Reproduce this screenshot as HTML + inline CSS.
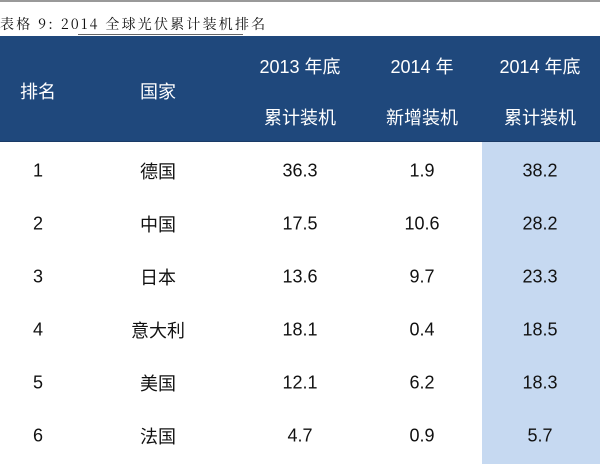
<!DOCTYPE html>
<html><head><meta charset="utf-8"><style>
body{margin:0;width:600px;height:464px;background:#fff;overflow:hidden;position:relative;font-family:"Liberation Sans","Noto Sans CJK SC",sans-serif}
.t{position:absolute;white-space:nowrap;transform:translate(-50%,-50%)}
.h{color:#fff;font-size:18px}
.d{color:#111;font-size:18px}
</style></head><body>
<div style="position:absolute;left:0;top:0;width:600px;height:2px;background:#999"></div>
<div style="position:absolute;left:0;top:14px;font-family:'Noto Serif CJK SC','Liberation Serif',serif;font-size:14px;letter-spacing:2.2px;color:#111">表格 9:  2014 全球光伏累计装机排名</div>
<div style="position:absolute;left:78px;top:34px;width:165px;height:1px;background:#666"></div>
<div style="position:absolute;left:0;top:36px;width:600px;height:106px;background:#1f487c"></div>
<div style="position:absolute;left:0;top:141px;width:600px;height:1px;background:#1a3a66"></div>
<div style="position:absolute;left:482px;top:142px;width:118px;height:322px;background:#c6d9f1"></div>
<div class="t h" style="left:38px;top:91px">排名</div>
<div class="t h" style="left:158px;top:91px">国家</div>
<div class="t h" style="left:300px;top:66px">2013 年底</div>
<div class="t h" style="left:300px;top:117px">累计装机</div>
<div class="t h" style="left:422px;top:66px">2014 年</div>
<div class="t h" style="left:422px;top:117px">新增装机</div>
<div class="t h" style="left:540px;top:66px">2014 年底</div>
<div class="t h" style="left:540px;top:117px">累计装机</div>
<div class="t d" style="left:38px;top:171px">1</div><div class="t d" style="left:158px;top:171px">德国</div><div class="t d" style="left:300px;top:171px">36.3</div><div class="t d" style="left:422px;top:171px">1.9</div><div class="t d" style="left:540px;top:171px">38.2</div>
<div class="t d" style="left:38px;top:224px">2</div><div class="t d" style="left:158px;top:224px">中国</div><div class="t d" style="left:300px;top:224px">17.5</div><div class="t d" style="left:422px;top:224px">10.6</div><div class="t d" style="left:540px;top:224px">28.2</div>
<div class="t d" style="left:38px;top:277px">3</div><div class="t d" style="left:158px;top:277px">日本</div><div class="t d" style="left:300px;top:277px">13.6</div><div class="t d" style="left:422px;top:277px">9.7</div><div class="t d" style="left:540px;top:277px">23.3</div>
<div class="t d" style="left:38px;top:330px">4</div><div class="t d" style="left:158px;top:330px">意大利</div><div class="t d" style="left:300px;top:330px">18.1</div><div class="t d" style="left:422px;top:330px">0.4</div><div class="t d" style="left:540px;top:330px">18.5</div>
<div class="t d" style="left:38px;top:383px">5</div><div class="t d" style="left:158px;top:383px">美国</div><div class="t d" style="left:300px;top:383px">12.1</div><div class="t d" style="left:422px;top:383px">6.2</div><div class="t d" style="left:540px;top:383px">18.3</div>
<div class="t d" style="left:38px;top:436px">6</div><div class="t d" style="left:158px;top:436px">法国</div><div class="t d" style="left:300px;top:436px">4.7</div><div class="t d" style="left:422px;top:436px">0.9</div><div class="t d" style="left:540px;top:436px">5.7</div>
</body></html>
